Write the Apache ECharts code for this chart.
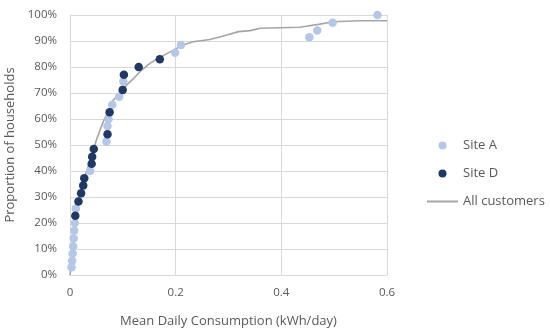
<!DOCTYPE html>
<html>
<head>
<meta charset="utf-8">
<script src="https://cdn.jsdelivr.net/npm/echarts@6/dist/echarts.min.js"></script>
<style>html,body{margin:0;padding:0;background:#fff;}#c{width:550px;height:333px;}</style>
</head>
<body>
<div id="c"></div>
<script>
const siteAX = [0.003,0.004,0.005,0.006,0.007,0.008,0.009,0.011,0.038,0.069,0.071,0.073,0.080,0.093,0.101,0.199,0.210,0.453,0.468,0.497,0.582];
const siteAY = [0.03,0.055,0.083,0.11,0.14,0.17,0.20,0.256,0.40,0.513,0.573,0.60,0.655,0.686,0.744,0.855,0.885,0.914,0.94,0.97,1.0];
const siteDX = [0.010,0.016,0.021,0.025,0.027,0.041,0.042,0.045,0.071,0.075,0.0997,0.102,0.130,0.170];
const siteDY = [0.228,0.283,0.314,0.344,0.372,0.428,0.455,0.485,0.541,0.626,0.712,0.77,0.80,0.83];
const allX = [0,0.003,0.006,0.01,0.015,0.02,0.03,0.04,0.05,0.063,0.075,0.082,0.095,0.107,0.12,0.1325,0.151,0.17,0.196,0.214,0.233,0.265,0.29,0.319,0.341,0.36,0.435,0.473,0.498,0.549,0.6];
const allY = [0,0.05,0.12,0.2,0.27,0.32,0.39,0.45,0.52,0.59,0.64,0.673,0.70,0.73,0.755,0.782,0.814,0.837,0.865,0.885,0.897,0.906,0.919,0.936,0.94,0.949,0.953,0.965,0.974,0.978,0.978];
const xTicks = [0,0.2,0.4,0.6];

const zip = (a,b)=>a.map((v,i)=>[v,b[i]]);
const font = '"Open Sans", sans-serif';
const chart = echarts.init(document.getElementById('c'), null, {renderer:'canvas'});
chart.setOption({
  animation:false,
  backgroundColor:'#fff',
  grid:{left:70,right:163,top:15,bottom:58,containLabel:false,outerBoundsMode:'none'},
  legend:{
    orient:'vertical', left:421, top:134, itemGap:15, itemTextGap:4,
    itemWidth:31, itemHeight:8,
    textStyle:{color:'#595959',fontSize:13,fontFamily:font},
    data:[{name:'Site A',icon:'circle'},{name:'Site D',icon:'circle'},
          {name:'All customers',itemStyle:{opacity:0}}]
  },
  xAxis:{
    type:'value', min:0, max:0.6, interval:0.2,
    name:'Mean Daily Consumption (kWh/day)', nameLocation:'middle', nameGap:40,
    nameTextStyle:{color:'#595959',fontSize:13,fontFamily:font},
    axisLine:{show:true,lineStyle:{color:'#D9D9D9'}},
    axisTick:{show:false},
    axisLabel:{color:'#595959',fontSize:11.5,fontFamily:font,margin:12,
      formatter:v=>{const t=xTicks.find(t=>Math.abs(t-v)<1e-9);return t===undefined?'':String(t);}},
    splitLine:{show:true,lineStyle:{color:'#D9D9D9'}}
  },
  yAxis:{
    type:'value', min:0, max:1, interval:0.1,
    name:'Proportion of households', nameLocation:'middle', nameGap:52,
    nameTextStyle:{color:'#595959',fontSize:13,fontFamily:font},
    axisLine:{show:true,lineStyle:{color:'#D9D9D9'}},
    axisTick:{show:false},
    axisLabel:{color:'#595959',fontSize:11.5,fontFamily:font,margin:13,formatter:v=>Math.round(v*100)+'%'},
    splitLine:{show:true,lineStyle:{color:'#D9D9D9'}}
  },
  series:[
    {name:'All customers',type:'line',data:zip(allX,allY),symbol:'none',
      lineStyle:{color:'#A5A5A5',width:1.6},itemStyle:{color:'#A5A5A5'},z:1},
    {name:'Site A',type:'scatter',data:zip(siteAX,siteAY),symbolSize:8.5,
      itemStyle:{color:'#B4C7E7',opacity:1},z:2},
    {name:'Site D',type:'scatter',data:zip(siteDX,siteDY),symbolSize:8.5,
      itemStyle:{color:'#203864',opacity:1},z:3}
  ]
});
</script>
</body>
</html>
